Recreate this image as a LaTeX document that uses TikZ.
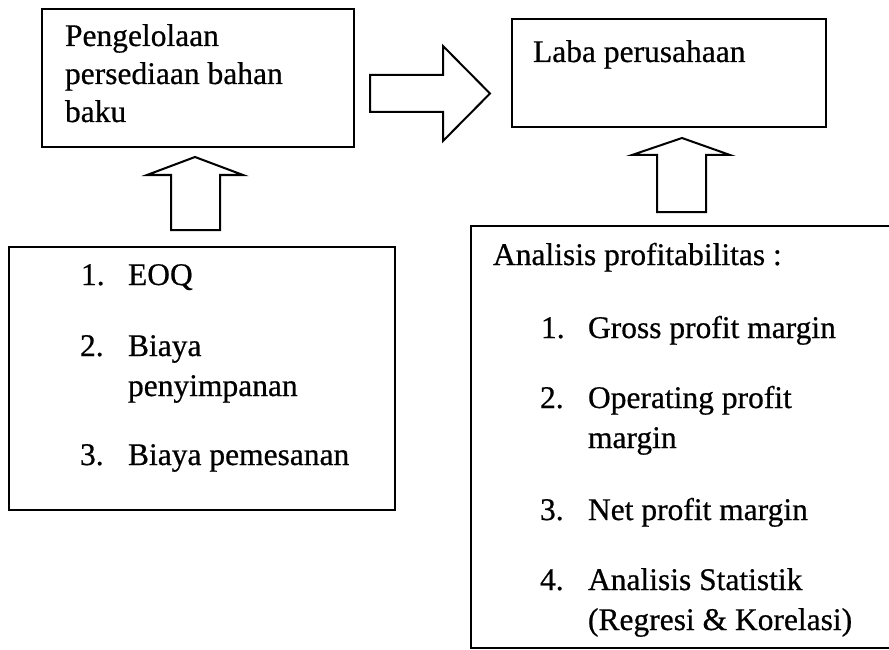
\documentclass[tikz,border=0pt]{standalone}
\usepackage{fontspec}
\setmainfont{Liberation Serif}
\newfontfamily\scanfont[FakeBold=0.6]{Liberation Serif}
\begin{document}
\begin{tikzpicture}[x=1pt,y=-1pt,
  boxst/.style={draw, line width=2pt, inner sep=0pt, outer sep=0pt},
  txt/.style={anchor=base west, inner sep=0pt, outer sep=0pt, font=\scanfont\fontsize{31.5}{38}\selectfont},
  blockarrow/.style={draw, line width=2pt, line join=miter, fill=white}]
\useasboundingbox (0,0) rectangle (889,650);
\clip (0,0) rectangle (889,650);
% boxes
\node[boxst, minimum width=312pt, minimum height=138pt] (b1) at (198,78) {};
\node[boxst, minimum width=314pt, minimum height=108pt] (b2) at (669,73) {};
\node[boxst, minimum width=386pt, minimum height=263pt] (b3) at (202,378.5) {};
\node[boxst, minimum width=430pt, minimum height=422pt] (b4) at (686,436.5) {};
% block arrows
\draw[blockarrow] (370,75) -- (443,75) -- (443,46) -- (490,93.5) -- (443,141) -- (443,112) -- (370,112) -- cycle;
\draw[blockarrow] (171,230) -- (171,175) -- (147,175) -- (195,157) -- (243,175) -- (220,175) -- (220,230) -- cycle;
\draw[blockarrow] (657,212) -- (657,155) -- (632,155) -- (682,138) -- (730,155) -- (706,155) -- (706,212) -- cycle;
% box 1 text
\node[txt] (t1a) at (65,46) {Pengelolaan};
\node[txt] (t1b) at (65,84) {persediaan bahan};
\node[txt] (t1c) at (65,122) {baku};
% box 2 text
\node[txt] (t2) at (533,62) {Laba perusahaan};
% box 3 text
\node[txt] (n31) at (81,285) {1.};
\node[txt] (t31) at (128,285) {EOQ};
\node[txt] (n32) at (80,356) {2.};
\node[txt] (t32a) at (128,356) {Biaya};
\node[txt] (t32b) at (128,396) {penyimpanan};
\node[txt] (n33) at (80,465) {3.};
\node[txt] (t33) at (128,465) {Biaya pemesanan};
% box 4 text
\node[txt] (t4h) at (493,265) {Analisis profitabilitas :};
\node[txt] (n41) at (541,338) {1.};
\node[txt] (t41) at (588,338) {Gross profit margin};
\node[txt] (n42) at (540,408) {2.};
\node[txt] (t42a) at (588,408) {Operating profit};
\node[txt] (t42b) at (588,448) {margin};
\node[txt] (n43) at (540,520) {3.};
\node[txt] (t43) at (588,520) {Net profit margin};
\node[txt] (n44) at (540,590) {4.};
\node[txt] (t44a) at (588,590) {Analisis Statistik};
\node[txt] (t44b) at (588,630) {(Regresi \& Korelasi)};
\end{tikzpicture}
\end{document}
